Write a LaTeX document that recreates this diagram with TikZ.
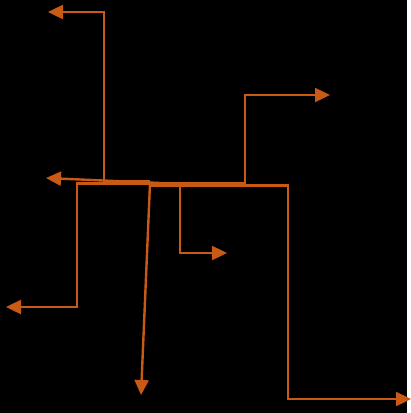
\documentclass[tikz,border=0pt]{standalone}
\usetikzlibrary{arrows.meta}
\definecolor{edgeor}{RGB}{200,90,22}
\begin{document}
\begin{tikzpicture}[x=1pt,y=-1pt,
  edge/.style={draw=edgeor,line width=2.4pt,line join=miter,-{Triangle[length=15pt,width=14pt]}}]
\useasboundingbox (0,0) rectangle (411,413);
\fill[white] (0,0) rectangle (411,413);
\fill[black] (0,0) rectangle (407,413);
\coordinate (r1) at (150,181.5);
\coordinate (r2) at (150,183.5);
\coordinate (r3) at (150,185.5);
\coordinate (rs) at (160,183);
\coordinate (a) at (48,12);
\coordinate (b) at (46,178);
\coordinate (c) at (6,307);
\coordinate (d) at (330,95);
\coordinate (e) at (227,253);
\coordinate (f) at (411,399);
\coordinate (g) at (141,395);
\draw[edge] (r1) -- (104,181.5) -- (104,12) -- (a);
\draw[edge] (rs) -- (b);
\draw[edge] (r2) -- (77,183.5) -- (77,307) -- (c);
\draw[edge] (r2) -- (245,183.5) -- (245,95) -- (d);
\draw[edge] (r3) -- (180,185.5) -- (180,253) -- (e);
\draw[edge] (r3) -- (288,185.5) -- (288,399) -- (f);
\draw[edge] (r2) -- (g);
\end{tikzpicture}
\end{document}
